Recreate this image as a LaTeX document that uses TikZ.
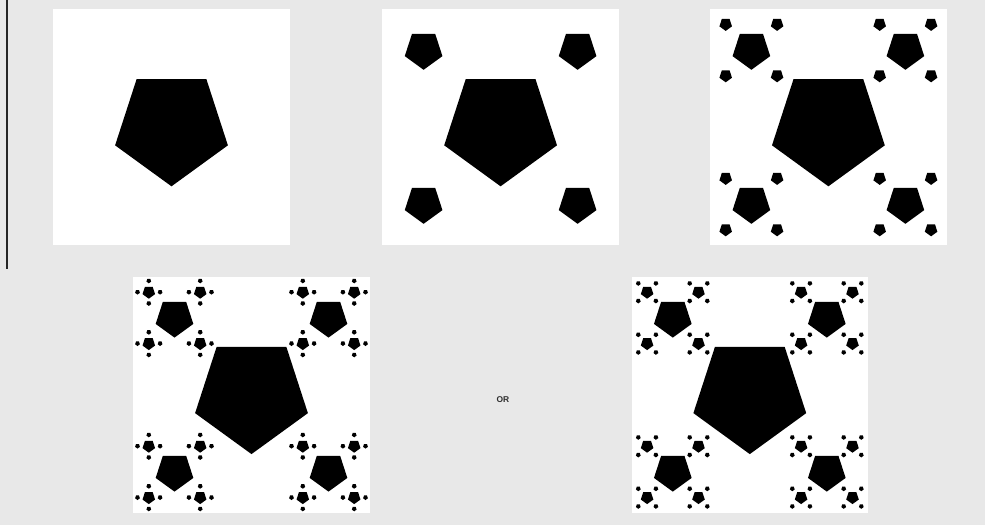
\documentclass[tikz,border=0pt]{standalone}
\usepackage{fontspec}
\setsansfont{Liberation Sans}
\usetikzlibrary{positioning}
\definecolor{PageGray}{RGB}{232,232,232}
\definecolor{TextGray}{RGB}{45,45,45}

% filled pentagon, vertex pointing down: centre x, centre y, radius
\newcommand{\pent}[3]{\fill[black] (#1,#2) +(90:#3) -- +(162:#3) -- +(234:#3)
  -- +(306:#3) -- +(18:#3) -- cycle;}

\begin{document}
\begin{tikzpicture}[
  x=0.02cm, y=-0.02cm,
  panel/.style={rectangle, fill=white, draw=none, inner sep=0pt,
                minimum size=4.73cm},
  orlabel/.style={font=\sffamily\bfseries\fontsize{4.8}{5}\selectfont,
                  text=TextGray, inner sep=0pt}
]
\useasboundingbox (0,0) rectangle (985,525);
\fill[PageGray] (0,0) rectangle (985,525);

% stray rule at the left
\coordinate (lnTop) at (7,0);
\coordinate (lnEnd) at (7,269);
\draw[line width=0.6pt, black!85] (lnTop) -- (lnEnd);

% Panels
\node[panel] (p1) at (171.5,127) {};
\node[panel] (p2) at (500.6,127) {};
\node[panel] (p3) at (828.4,127) {};
\node[panel] (p4) at (251.5,394.8) {};
\node[panel] (p5) at (749.8,394.8) {};

\node[orlabel] (or) at (503,399.3) {OR};

% Step 1
\begin{scope}[shift={(p1.center)}]
  \pent{0}{0}{59.3}
\end{scope}

% Step 2
\begin{scope}[shift={(p2.center)}]
  \pent{0}{0}{59.3}
  \foreach \a in {-1,1} \foreach \b in {-1,1} {\pent{\a*77}{\b*77}{19.8}}
\end{scope}

% Step 3
\begin{scope}[shift={(p3.center)}]
  \pent{0}{0}{59.3}
  \foreach \a in {-1,1} \foreach \b in {-1,1} {
    \pent{\a*77}{\b*77}{19.8}
    \foreach \c in {-1,1} \foreach \d in {-1,1}
      {\pent{\a*77+\c*25.7}{\b*77+\d*25.7}{6.6}}
  }
\end{scope}

% Step 4, dots on the axes
\begin{scope}[shift={(p4.center)}]
  \pent{0}{0}{59.3}
  \foreach \a in {-1,1} \foreach \b in {-1,1} {
    \pent{\a*77}{\b*77}{19.8}
    \foreach \c in {-1,1} \foreach \d in {-1,1} {
      \pent{\a*77+\c*25.7}{\b*77+\d*25.7}{6.6}
      \foreach \e/\f in {0/-1,0/1,-1/0,1/0}
        {\pent{\a*77+\c*25.7+\e*11.3}{\b*77+\d*25.7+\f*11.3}{2.5}}
    }
  }
\end{scope}

% Step 4, dots on the diagonals
\begin{scope}[shift={(p5.center)}]
  \pent{0}{0}{59.3}
  \foreach \a in {-1,1} \foreach \b in {-1,1} {
    \pent{\a*77}{\b*77}{19.8}
    \foreach \c in {-1,1} \foreach \d in {-1,1} {
      \pent{\a*77+\c*25.7}{\b*77+\d*25.7}{6.6}
      \foreach \e in {-1,1} \foreach \f in {-1,1}
        {\pent{\a*77+\c*25.7+\e*8.8}{\b*77+\d*25.7+\f*8.8}{2.5}}
    }
  }
\end{scope}

\end{tikzpicture}
\end{document}
